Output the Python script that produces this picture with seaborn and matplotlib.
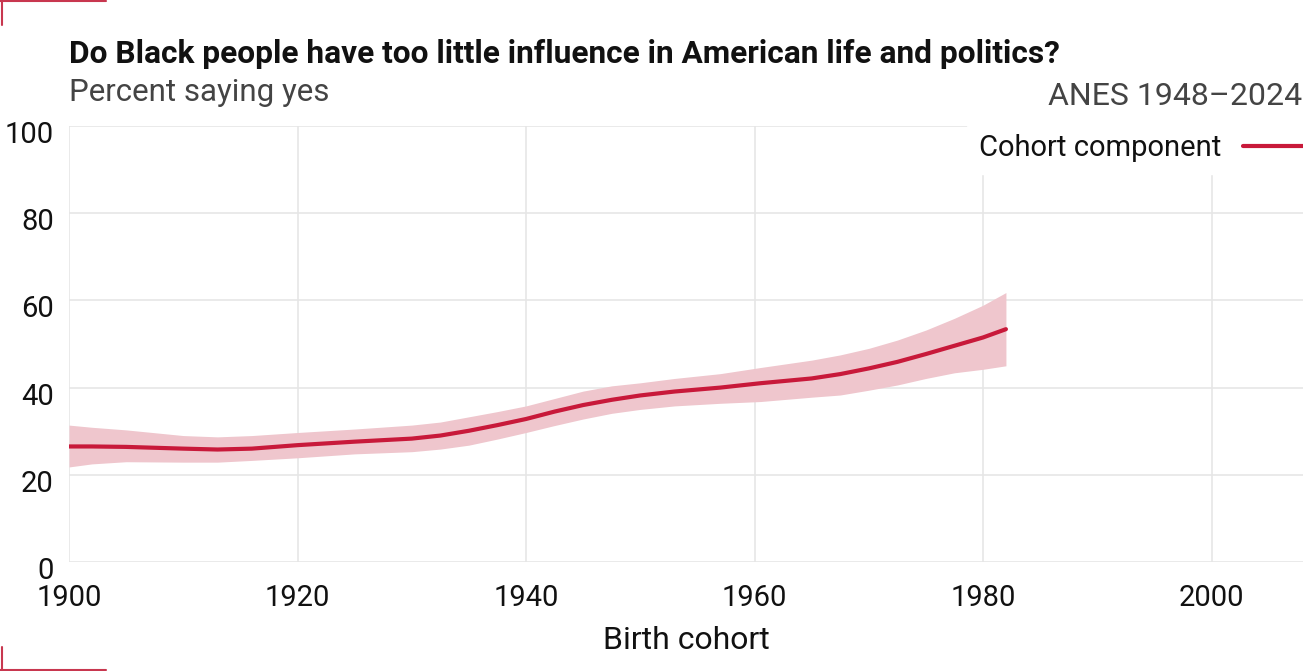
import pandas as pd
import seaborn as sns
import matplotlib.pyplot as plt
from matplotlib.lines import Line2D
from matplotlib.transforms import ScaledTranslation

# values
cohort = [1900, 1902, 1905, 1910, 1913, 1916, 1920, 1925, 1930, 1932.5,
          1935, 1937.5, 1940, 1942.5, 1945, 1947.5, 1950, 1953, 1957,
          1960.5, 1965, 1967.5, 1970, 1972.5, 1975, 1977.5, 1980, 1982]
estimate = [26.5, 26.5, 26.4, 26.0, 25.8, 26.0, 26.8, 27.6, 28.3, 29.0,
            30.1, 31.4, 32.8, 34.5, 36.0, 37.2, 38.2, 39.1, 40.0,
            41.0, 42.1, 43.1, 44.4, 45.9, 47.7, 49.6, 51.5, 53.4]
upper = [31.4, 30.9, 30.3, 29.0, 28.7, 29.0, 29.7, 30.5, 31.4, 32.1,
         33.3, 34.5, 35.8, 37.5, 39.2, 40.4, 41.1, 42.1, 43.2,
         44.6, 46.3, 47.5, 49.0, 50.9, 53.2, 55.9, 58.9, 61.8]
lower = [21.8, 22.5, 23.0, 22.9, 22.9, 23.3, 23.9, 24.8, 25.3, 25.9,
         26.8, 28.2, 29.7, 31.3, 32.8, 34.1, 35.0, 35.8, 36.4,
         36.8, 37.8, 38.3, 39.4, 40.6, 42.1, 43.4, 44.2, 45.0]

x_ticks = [1900, 1920, 1940, 1960, 1980, 2000]
y_ticks = [0, 20, 40, 60, 80, 100]

df = pd.DataFrame({"cohort": cohort, "estimate": estimate,
                   "lower": lower, "upper": upper})

red = "#c8193a"
band = "#efc6cd"
grid = "#e6e6e6"

sns.set_theme(style="white")
plt.rcParams["font.family"] = ["Roboto", "DejaVu Sans"]

fig = plt.figure(figsize=(13.03, 6.71), dpi=100)
ax = fig.add_axes([69 / 1303, 1 - 562 / 671, 1234 / 1303, 436 / 671])

ax.fill_between(df.cohort, df.lower, df.upper, color=band, lw=0, zorder=2)
sns.lineplot(data=df, x="cohort", y="estimate", color=red, lw=3, ax=ax,
             zorder=3)

ax.set_xlim(1900, 2008)
ax.set_ylim(0, 100)
ax.set_xticks(x_ticks)
ax.set_yticks(y_ticks)
ax.grid(True, color=grid, lw=1.2, zorder=0)
ax.set_axisbelow(True)
for s in ax.spines.values():
    s.set_visible(False)
ax.tick_params(axis="both", length=0, labelsize=21, colors="#111111")
ax.tick_params(axis="y", pad=11)
ax.tick_params(axis="x", pad=16)
for lab in ax.get_yticklabels():
    lab.set_transform(lab.get_transform() +
                      ScaledTranslation(0, -6 / 100, fig.dpi_scale_trans))

ax.set_xlabel("Birth cohort", fontsize=23, color="#111111", labelpad=10)
ax.set_ylabel("")

handle = Line2D([], [], color=red, lw=3)
leg = ax.legend([handle], ["Cohort component"], loc="center right",
                bbox_to_anchor=(1.0115, 0.949), markerfirst=False,
                fontsize=21, frameon=True, handlelength=2.15,
                handletextpad=0.75, borderpad=0.4, borderaxespad=0)
leg.get_frame().set_facecolor("white")
leg.get_frame().set_edgecolor("white")
leg.get_frame().set_alpha(1)
for t in leg.get_texts():
    t.set_color("#111111")

fig.text(69 / 1303, 1 - 63 / 671,
         "Do Black people have too little influence in American life and politics?",
         fontsize=22.8, fontweight="bold", color="#111111")
fig.text(69 / 1303, 1 - 101 / 671, "Percent saying yes", fontsize=22.5,
         color="#444444")
fig.text(1302 / 1303, 1 - 105 / 671, "ANES 1948\u20132024", fontsize=23,
         color="#444444", ha="right")

# corner marks
mark = "#c8374f"
fig.add_artist(Line2D([0, 106 / 1303], [1 - 1 / 671, 1 - 1 / 671],
                      color=mark, lw=1.5, transform=fig.transFigure))
fig.add_artist(Line2D([2 / 1303, 2 / 1303], [1, 1 - 25 / 671],
                      color=mark, lw=1.5, transform=fig.transFigure))
fig.add_artist(Line2D([0, 106 / 1303], [1.5 / 671, 1.5 / 671],
                      color=mark, lw=1.5, transform=fig.transFigure))
fig.add_artist(Line2D([2 / 1303, 2 / 1303], [0, 24 / 671],
                      color=mark, lw=1.5, transform=fig.transFigure))

fig.savefig("out.png", dpi=100)
